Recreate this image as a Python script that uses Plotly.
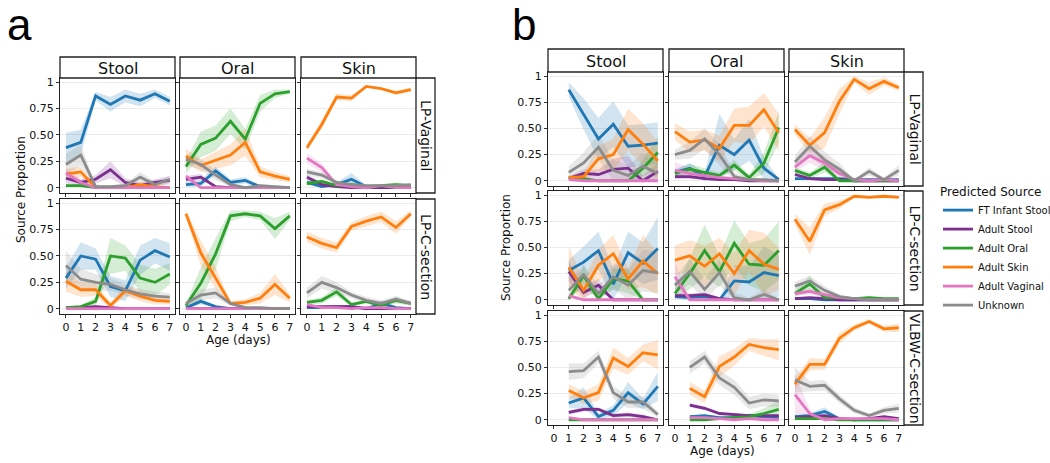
import plotly.graph_objects as go

W, H = 1050, 463
N = None

AGE = [0, 1, 2, 3, 4, 5, 6, 7]
SOURCES = ["FT Infant Stool", "Adult Stool", "Adult Oral", "Adult Skin", "Adult Vaginal", "Unknown"]
COLORS = ["#1f77b4", "#7b2f8e", "#2ca02c", "#ff7f0e", "#e377c2", "#8c8c8c"]
BAND_RGB = ["31,119,180", "123,47,142", "44,160,44", "255,127,14", "227,119,194", "140,140,140"]
SITES = ["Stool", "Oral", "Skin"]
ROWS_A = ["LP-Vaginal", "LP-C-section"]
ROWS_B = ["LP-Vaginal", "LP-C-section", "VLBW-C-section"]
Y_TICKS = [0, 0.25, 0.5, 0.75, 1]
Y_TICKTEXT = ["0", "0.25", "0.50", "0.75", "1"]

# ---- panel a, LP-Vaginal ----  (order: FT stool, adult stool, oral, skin, vaginal, unknown)
A_VAG_STOOL_MEAN = [
    [0.38, 0.43, 0.87, 0.79, 0.87, 0.83, 0.89, 0.82],
    [0.09, 0.05, 0.08, 0.17, 0.05, 0.02, 0.05, 0.07],
    [0.02, 0.02, 0.00, 0.00, 0.00, 0.00, 0.00, 0.00],
    [0.13, 0.15, 0.00, 0.00, 0.00, 0.03, 0.01, 0.00],
    [0.14, 0.05, 0.00, 0.00, 0.00, 0.00, 0.00, 0.00],
    [0.22, 0.31, 0.01, 0.01, 0.02, 0.10, 0.03, 0.08]]
A_VAG_STOOL_SPREAD = [
    [0.14, 0.12, 0.04, 0.07, 0.06, 0.06, 0.04, 0.04],
    [0.05, 0.03, 0.04, 0.08, 0.04, 0.03, 0.03, 0.04],
    [0.01, 0.01, 0.00, 0.00, 0.00, 0.00, 0.00, 0.00],
    [0.05, 0.05, 0.01, 0.01, 0.01, 0.02, 0.01, 0.01],
    [0.05, 0.03, 0.00, 0.00, 0.00, 0.00, 0.00, 0.00],
    [0.10, 0.10, 0.02, 0.01, 0.02, 0.05, 0.03, 0.03]]
A_VAG_ORAL_MEAN = [
    [0.03, 0.04, 0.16, 0.05, 0.07, 0.01, 0.00, 0.00],
    [0.08, 0.10, 0.01, 0.00, 0.00, 0.00, 0.00, 0.00],
    [0.20, 0.41, 0.47, 0.63, 0.46, 0.80, 0.89, 0.91],
    [0.30, 0.21, 0.26, 0.31, 0.43, 0.15, 0.11, 0.08],
    [0.11, 0.00, 0.00, 0.00, 0.00, 0.00, 0.00, 0.00],
    [0.27, 0.22, 0.12, 0.03, 0.00, 0.02, 0.01, 0.00]]
A_VAG_ORAL_SPREAD = [
    [0.02, 0.03, 0.04, 0.03, 0.03, 0.01, 0.01, 0.00],
    [0.03, 0.03, 0.01, 0.00, 0.00, 0.00, 0.00, 0.00],
    [0.06, 0.12, 0.12, 0.12, 0.10, 0.08, 0.04, 0.02],
    [0.07, 0.06, 0.08, 0.10, 0.13, 0.05, 0.04, 0.03],
    [0.03, 0.00, 0.00, 0.00, 0.00, 0.00, 0.00, 0.00],
    [0.05, 0.05, 0.05, 0.02, 0.01, 0.01, 0.01, 0.01]]
A_VAG_SKIN_MEAN = [
    [0.05, 0.01, 0.03, 0.08, 0.01, 0.01, 0.00, 0.00],
    [0.10, 0.03, 0.01, 0.00, 0.00, 0.00, 0.00, 0.00],
    [0.04, 0.06, 0.02, 0.03, 0.01, 0.02, 0.03, 0.02],
    [0.38, 0.60, 0.86, 0.85, 0.96, 0.94, 0.90, 0.93],
    [0.28, 0.19, 0.03, 0.01, 0.00, 0.02, 0.00, 0.00],
    [0.15, 0.12, 0.05, 0.03, 0.02, 0.02, 0.02, 0.03]]
A_VAG_SKIN_SPREAD = [
    [0.02, 0.01, 0.02, 0.06, 0.01, 0.01, 0.00, 0.00],
    [0.03, 0.02, 0.01, 0.00, 0.00, 0.00, 0.00, 0.00],
    [0.02, 0.02, 0.01, 0.02, 0.01, 0.01, 0.02, 0.01],
    [0.03, 0.04, 0.03, 0.03, 0.01, 0.01, 0.02, 0.02],
    [0.05, 0.04, 0.02, 0.01, 0.00, 0.01, 0.00, 0.00],
    [0.03, 0.03, 0.02, 0.02, 0.01, 0.01, 0.01, 0.01]]

# ---- panel a, LP-C-section ----
A_CS_STOOL_MEAN = [
    [0.29, 0.50, 0.47, 0.21, 0.17, 0.46, 0.55, 0.49],
    [0.01, 0.01, 0.02, 0.01, 0.00, 0.00, 0.00, 0.00],
    [0.01, 0.02, 0.07, 0.50, 0.48, 0.29, 0.25, 0.33],
    [0.26, 0.18, 0.18, 0.03, 0.17, 0.12, 0.08, 0.07],
    [0.00, 0.00, 0.00, 0.00, 0.00, 0.00, 0.00, 0.00],
    [0.41, 0.28, 0.25, 0.23, 0.18, 0.14, 0.12, 0.11]]
A_CS_STOOL_SPREAD = [
    [0.10, 0.13, 0.10, 0.10, 0.10, 0.14, 0.12, 0.13],
    [0.01, 0.01, 0.01, 0.01, 0.00, 0.00, 0.00, 0.00],
    [0.01, 0.01, 0.04, 0.17, 0.12, 0.13, 0.13, 0.10],
    [0.10, 0.07, 0.06, 0.03, 0.05, 0.05, 0.04, 0.03],
    [0.00, 0.00, 0.00, 0.00, 0.00, 0.00, 0.00, 0.00],
    [0.14, 0.10, 0.08, 0.06, 0.05, 0.05, 0.04, 0.04]]
A_CS_ORAL_MEAN = [
    [0.01, 0.07, 0.02, 0.00, 0.00, 0.00, 0.00, 0.00],
    [0.00, 0.00, 0.00, 0.00, 0.00, 0.00, 0.00, 0.00],
    [0.03, 0.24, 0.52, 0.88, 0.90, 0.88, 0.76, 0.88],
    [0.90, 0.53, 0.29, 0.05, 0.06, 0.10, 0.23, 0.10],
    [0.00, 0.00, 0.00, 0.00, 0.00, 0.00, 0.00, 0.00],
    [0.05, 0.13, 0.15, 0.05, 0.01, 0.01, 0.00, 0.00]]
A_CS_ORAL_SPREAD = [
    [0.01, 0.03, 0.01, 0.00, 0.00, 0.00, 0.00, 0.00],
    [0.00, 0.00, 0.00, 0.00, 0.00, 0.00, 0.00, 0.00],
    [0.02, 0.15, 0.15, 0.05, 0.03, 0.04, 0.10, 0.04],
    [0.03, 0.12, 0.10, 0.02, 0.03, 0.05, 0.10, 0.04],
    [0.00, 0.00, 0.00, 0.00, 0.00, 0.00, 0.00, 0.00],
    [0.02, 0.05, 0.05, 0.02, 0.01, 0.01, 0.00, 0.00]]
A_CS_SKIN_MEAN = [
    [0.01, 0.01, 0.02, 0.02, 0.00, 0.05, 0.01, 0.00],
    [0.02, 0.02, 0.02, 0.02, 0.00, 0.00, 0.00, 0.00],
    [0.06, 0.08, 0.16, 0.04, 0.07, 0.03, 0.08, 0.05],
    [0.68, 0.62, 0.58, 0.78, 0.83, 0.87, 0.77, 0.90],
    [0.04, 0.01, 0.01, 0.00, 0.01, 0.01, 0.00, 0.00],
    [0.15, 0.25, 0.20, 0.13, 0.08, 0.05, 0.09, 0.05]]
A_CS_SKIN_SPREAD = [
    [0.01, 0.01, 0.01, 0.01, 0.00, 0.03, 0.01, 0.00],
    [0.01, 0.01, 0.01, 0.01, 0.00, 0.00, 0.00, 0.00],
    [0.02, 0.03, 0.04, 0.02, 0.02, 0.02, 0.03, 0.02],
    [0.05, 0.05, 0.05, 0.04, 0.05, 0.05, 0.06, 0.03],
    [0.02, 0.01, 0.01, 0.00, 0.01, 0.01, 0.00, 0.00],
    [0.05, 0.06, 0.05, 0.03, 0.03, 0.03, 0.03, 0.02]]

# ---- panel b, LP-Vaginal ----
B_VAG_STOOL_MEAN = [
    [N, 0.87, 0.64, 0.40, 0.54, 0.33, 0.34, 0.36],
    [N, 0.02, 0.07, 0.06, 0.11, 0.12, 0.00, 0.09],
    [N, 0.03, 0.02, 0.00, 0.00, 0.00, 0.12, 0.27],
    [N, 0.03, 0.04, 0.21, 0.25, 0.49, 0.35, 0.19],
    [N, 0.01, 0.00, 0.00, 0.00, 0.00, 0.00, 0.00],
    [N, 0.08, 0.17, 0.32, 0.10, 0.05, 0.14, 0.07]]
B_VAG_STOOL_SPREAD = [
    [N, 0.07, 0.15, 0.20, 0.22, 0.20, 0.20, 0.20],
    [N, 0.02, 0.04, 0.05, 0.10, 0.12, 0.05, 0.08],
    [N, 0.02, 0.02, 0.00, 0.00, 0.00, 0.08, 0.15],
    [N, 0.02, 0.04, 0.12, 0.15, 0.20, 0.20, 0.18],
    [N, 0.01, 0.00, 0.00, 0.00, 0.00, 0.00, 0.00],
    [N, 0.06, 0.10, 0.12, 0.10, 0.10, 0.12, 0.12]]
B_VAG_ORAL_MEAN = [
    [0.08, 0.12, 0.04, 0.34, 0.25, 0.39, 0.12, 0.01],
    [0.04, 0.04, 0.02, 0.01, 0.01, 0.00, 0.00, 0.00],
    [0.07, 0.11, 0.08, 0.05, 0.15, 0.03, 0.17, 0.51],
    [0.47, 0.37, 0.39, 0.31, 0.53, 0.53, 0.68, 0.46],
    [0.10, 0.07, 0.05, 0.03, 0.02, 0.01, 0.00, 0.00],
    [0.25, 0.29, 0.40, 0.25, 0.04, 0.01, 0.01, 0.00]]
B_VAG_ORAL_SPREAD = [
    [0.03, 0.05, 0.04, 0.30, 0.15, 0.20, 0.10, 0.01],
    [0.02, 0.02, 0.01, 0.01, 0.01, 0.00, 0.00, 0.00],
    [0.03, 0.05, 0.04, 0.03, 0.05, 0.03, 0.10, 0.15],
    [0.08, 0.10, 0.10, 0.12, 0.16, 0.18, 0.16, 0.18],
    [0.08, 0.05, 0.03, 0.02, 0.01, 0.01, 0.00, 0.00],
    [0.05, 0.08, 0.10, 0.10, 0.04, 0.02, 0.01, 0.01]]
B_VAG_SKIN_MEAN = [
    [0.02, 0.02, 0.02, 0.02, 0.01, 0.01, 0.01, 0.01],
    [0.06, 0.02, 0.01, 0.01, 0.00, 0.00, 0.00, 0.00],
    [0.10, 0.05, 0.13, 0.00, 0.00, 0.00, 0.00, 0.00],
    [0.49, 0.34, 0.46, 0.76, 0.97, 0.88, 0.95, 0.89],
    [0.13, 0.24, 0.17, 0.07, 0.01, 0.00, 0.01, 0.00],
    [0.18, 0.33, 0.20, 0.11, 0.00, 0.09, 0.01, 0.10]]
B_VAG_SKIN_SPREAD = [
    [0.01, 0.01, 0.01, 0.01, 0.01, 0.01, 0.01, 0.01],
    [0.02, 0.01, 0.01, 0.01, 0.00, 0.00, 0.00, 0.00],
    [0.03, 0.03, 0.05, 0.01, 0.00, 0.00, 0.00, 0.00],
    [0.05, 0.07, 0.15, 0.12, 0.03, 0.06, 0.04, 0.03],
    [0.04, 0.07, 0.07, 0.04, 0.01, 0.00, 0.00, 0.00],
    [0.06, 0.10, 0.08, 0.06, 0.01, 0.04, 0.02, 0.05]]

# ---- panel b, LP-C-section ----
B_CS_STOOL_MEAN = [
    [N, 0.28, 0.36, 0.47, 0.15, 0.45, 0.35, 0.49],
    [N, 0.27, 0.07, 0.14, 0.00, 0.00, 0.00, 0.00],
    [N, 0.01, 0.23, 0.01, 0.20, 0.18, 0.00, 0.00],
    [N, 0.31, 0.09, 0.33, 0.44, 0.20, 0.37, 0.25],
    [N, 0.04, 0.00, 0.00, 0.00, 0.00, 0.00, 0.00],
    [N, 0.09, 0.24, 0.06, 0.22, 0.14, 0.28, 0.26]]
B_CS_STOOL_SPREAD = [
    [N, 0.10, 0.15, 0.18, 0.15, 0.20, 0.20, 0.30],
    [N, 0.10, 0.05, 0.06, 0.00, 0.00, 0.00, 0.00],
    [N, 0.01, 0.10, 0.02, 0.10, 0.12, 0.02, 0.00],
    [N, 0.20, 0.10, 0.15, 0.18, 0.10, 0.25, 0.20],
    [N, 0.02, 0.00, 0.00, 0.00, 0.00, 0.00, 0.00],
    [N, 0.08, 0.10, 0.08, 0.12, 0.15, 0.20, 0.20]]
B_CS_ORAL_MEAN = [
    [0.03, 0.02, 0.03, 0.00, 0.18, 0.17, 0.26, 0.23],
    [0.04, 0.04, 0.05, 0.01, 0.00, 0.00, 0.00, 0.00],
    [0.06, 0.25, 0.47, 0.27, 0.54, 0.34, 0.33, 0.47],
    [0.38, 0.42, 0.32, 0.44, 0.25, 0.47, 0.34, 0.29],
    [0.22, 0.00, 0.00, 0.00, 0.00, 0.00, 0.00, 0.00],
    [0.14, 0.27, 0.10, 0.26, 0.02, 0.00, 0.05, 0.00]]
B_CS_ORAL_SPREAD = [
    [0.02, 0.02, 0.02, 0.01, 0.15, 0.15, 0.25, 0.20],
    [0.02, 0.02, 0.02, 0.01, 0.00, 0.00, 0.00, 0.00],
    [0.05, 0.15, 0.25, 0.15, 0.22, 0.20, 0.25, 0.28],
    [0.14, 0.15, 0.20, 0.15, 0.20, 0.20, 0.30, 0.20],
    [0.15, 0.00, 0.00, 0.00, 0.00, 0.00, 0.00, 0.00],
    [0.08, 0.12, 0.10, 0.12, 0.05, 0.02, 0.05, 0.01]]
B_CS_SKIN_MEAN = [
    [0.01, 0.01, 0.00, 0.00, 0.00, 0.00, 0.00, 0.00],
    [0.01, 0.02, 0.01, 0.00, 0.00, 0.00, 0.00, 0.00],
    [0.06, 0.15, 0.02, 0.02, 0.01, 0.02, 0.01, 0.01],
    [0.77, 0.56, 0.86, 0.91, 0.99, 0.98, 0.99, 0.98],
    [0.06, 0.08, 0.05, 0.02, 0.01, 0.00, 0.00, 0.00],
    [0.13, 0.18, 0.09, 0.03, 0.01, 0.00, 0.00, 0.00]]
B_CS_SKIN_SPREAD = [
    [0.01, 0.01, 0.00, 0.00, 0.00, 0.00, 0.00, 0.00],
    [0.01, 0.01, 0.01, 0.00, 0.00, 0.00, 0.00, 0.00],
    [0.03, 0.08, 0.02, 0.01, 0.01, 0.01, 0.01, 0.01],
    [0.05, 0.13, 0.06, 0.04, 0.01, 0.01, 0.01, 0.01],
    [0.02, 0.03, 0.02, 0.01, 0.01, 0.00, 0.00, 0.00],
    [0.04, 0.05, 0.04, 0.02, 0.01, 0.00, 0.00, 0.00]]

# ---- panel b, VLBW-C-section ----
B_VLBW_STOOL_MEAN = [
    [N, 0.16, 0.21, 0.03, 0.09, 0.26, 0.15, 0.32],
    [N, 0.07, 0.10, 0.10, 0.04, 0.05, 0.03, 0.00],
    [N, 0.00, 0.00, 0.00, 0.00, 0.00, 0.00, 0.00],
    [N, 0.28, 0.21, 0.26, 0.59, 0.51, 0.64, 0.62],
    [N, 0.02, 0.00, 0.00, 0.00, 0.00, 0.00, 0.00],
    [N, 0.46, 0.47, 0.60, 0.26, 0.17, 0.17, 0.05]]
B_VLBW_STOOL_SPREAD = [
    [N, 0.05, 0.10, 0.03, 0.05, 0.10, 0.05, 0.14],
    [N, 0.02, 0.02, 0.02, 0.02, 0.02, 0.02, 0.01],
    [N, 0.00, 0.00, 0.00, 0.00, 0.00, 0.00, 0.00],
    [N, 0.06, 0.06, 0.08, 0.10, 0.08, 0.08, 0.14],
    [N, 0.01, 0.00, 0.00, 0.00, 0.00, 0.00, 0.00],
    [N, 0.08, 0.07, 0.06, 0.06, 0.06, 0.06, 0.03]]
B_VLBW_ORAL_MEAN = [
    [N, 0.03, 0.04, 0.02, 0.02, 0.04, 0.03, 0.02],
    [N, 0.14, 0.11, 0.06, 0.05, 0.04, 0.04, 0.04],
    [N, 0.00, 0.00, 0.01, 0.02, 0.03, 0.06, 0.10],
    [N, 0.30, 0.22, 0.51, 0.60, 0.72, 0.69, 0.67],
    [N, 0.02, 0.02, 0.01, 0.00, 0.01, 0.00, 0.00],
    [N, 0.50, 0.60, 0.40, 0.31, 0.16, 0.19, 0.18]]
B_VLBW_ORAL_SPREAD = [
    [N, 0.01, 0.01, 0.01, 0.01, 0.02, 0.01, 0.01],
    [N, 0.02, 0.02, 0.01, 0.01, 0.01, 0.01, 0.01],
    [N, 0.00, 0.00, 0.01, 0.01, 0.02, 0.05, 0.08],
    [N, 0.06, 0.06, 0.10, 0.08, 0.06, 0.08, 0.10],
    [N, 0.01, 0.01, 0.01, 0.00, 0.01, 0.00, 0.00],
    [N, 0.06, 0.06, 0.07, 0.07, 0.06, 0.06, 0.06]]
B_VLBW_SKIN_MEAN = [
    [0.03, 0.04, 0.08, 0.01, 0.00, 0.00, 0.00, 0.00],
    [0.02, 0.03, 0.04, 0.01, 0.00, 0.01, 0.03, 0.01],
    [0.01, 0.01, 0.01, 0.00, 0.00, 0.00, 0.00, 0.00],
    [0.34, 0.53, 0.53, 0.78, 0.88, 0.94, 0.87, 0.88],
    [0.24, 0.06, 0.00, 0.01, 0.01, 0.01, 0.01, 0.00],
    [0.38, 0.32, 0.33, 0.20, 0.09, 0.04, 0.09, 0.11]]
B_VLBW_SKIN_SPREAD = [
    [0.01, 0.02, 0.04, 0.01, 0.00, 0.00, 0.00, 0.00],
    [0.01, 0.01, 0.01, 0.01, 0.00, 0.01, 0.01, 0.01],
    [0.01, 0.01, 0.01, 0.00, 0.00, 0.00, 0.00, 0.00],
    [0.06, 0.06, 0.05, 0.05, 0.03, 0.02, 0.03, 0.04],
    [0.20, 0.04, 0.00, 0.01, 0.00, 0.00, 0.00, 0.00],
    [0.12, 0.05, 0.05, 0.04, 0.03, 0.02, 0.03, 0.04]]

# ---------------- layout geometry (pixels) ----------------
A_COLS = [(60, 175), (180, 295), (301, 416)]
A_ROWS = [(78, 193), (199, 314)]
A_HEAD = (57, 78)
A_STRIP_X = (416, 435)
B_COLS = [(548, 663), (669, 784), (789, 904)]
B_ROWS = [(72, 186), (191, 305), (311, 425)]
B_HEAD = (49, 72)
B_STRIP_X = (904, 923)

A_DATA = [
    [(A_VAG_STOOL_MEAN, A_VAG_STOOL_SPREAD), (A_VAG_ORAL_MEAN, A_VAG_ORAL_SPREAD), (A_VAG_SKIN_MEAN, A_VAG_SKIN_SPREAD)],
    [(A_CS_STOOL_MEAN, A_CS_STOOL_SPREAD), (A_CS_ORAL_MEAN, A_CS_ORAL_SPREAD), (A_CS_SKIN_MEAN, A_CS_SKIN_SPREAD)],
]
B_DATA = [
    [(B_VAG_STOOL_MEAN, B_VAG_STOOL_SPREAD), (B_VAG_ORAL_MEAN, B_VAG_ORAL_SPREAD), (B_VAG_SKIN_MEAN, B_VAG_SKIN_SPREAD)],
    [(B_CS_STOOL_MEAN, B_CS_STOOL_SPREAD), (B_CS_ORAL_MEAN, B_CS_ORAL_SPREAD), (B_CS_SKIN_MEAN, B_CS_SKIN_SPREAD)],
    [(B_VLBW_STOOL_MEAN, B_VLBW_STOOL_SPREAD), (B_VLBW_ORAL_MEAN, B_VLBW_ORAL_SPREAD), (B_VLBW_SKIN_MEAN, B_VLBW_SKIN_SPREAD)],
]

FONT = "DejaVu Sans"


def fx(p):
    return p / W


def fy(p):
    return 1 - p / H


fig = go.Figure()
layout = {}
shapes = []
annotations = []
ax_i = [0]
legend_done = [False]


def ann(text, xp, yp, size, angle=0, family=FONT, color="#111"):
    return dict(text=text, xref="paper", yref="paper", x=fx(xp), y=fy(yp),
                xanchor="center", yanchor="middle", textangle=angle, showarrow=False,
                font=dict(size=size, color=color, family=family))


def add_panel(cols, rows, data, row_i, col_i):
    ax_i[0] += 1
    k = ax_i[0]
    xa = "x" if k == 1 else f"x{k}"
    ya = "y" if k == 1 else f"y{k}"
    xkey = "xaxis" if k == 1 else f"xaxis{k}"
    ykey = "yaxis" if k == 1 else f"yaxis{k}"
    (l, r), (t, b) = cols[col_i], rows[row_i]
    last_row = row_i == len(rows) - 1
    layout[xkey] = dict(domain=[fx(l), fx(r)], anchor=ya, range=[-0.4, 7.35],
                        tickvals=AGE, ticks="outside", ticklen=3, tickwidth=1, tickcolor="#333",
                        showticklabels=last_row, showgrid=False, zeroline=False,
                        showline=True, mirror=True, linecolor="#222", linewidth=1.3,
                        tickfont=dict(size=11, color="#111", family=FONT))
    layout[ykey] = dict(domain=[fy(b), fy(t)], anchor=xa, range=[-0.05, 1.04],
                        tickvals=Y_TICKS, ticktext=Y_TICKTEXT, ticks="outside", ticklen=3,
                        tickwidth=1, tickcolor="#333",
                        showticklabels=(col_i == 0), showgrid=True, gridcolor="#ebebeb",
                        gridwidth=1, zeroline=False,
                        showline=True, mirror=True, linecolor="#222", linewidth=1.3,
                        tickfont=dict(size=11, color="#111", family=FONT))
    means, spreads = data
    # bands
    for s in range(len(SOURCES)):
        xs = [a for a, m in zip(AGE, means[s]) if m is not None]
        ms = [m for m in means[s] if m is not None]
        ss = [v for v in spreads[s] if v is not None]
        hi = [min(1.0, m + v) for m, v in zip(ms, ss)]
        lo = [max(0.0, m - v) for m, v in zip(ms, ss)]
        fig.add_trace(go.Scatter(x=xs + xs[::-1], y=hi + lo[::-1], xaxis=xa, yaxis=ya,
                                 fill="toself", fillcolor=f"rgba({BAND_RGB[s]},0.2)",
                                 line=dict(width=0), mode="lines", hoverinfo="skip",
                                 showlegend=False))
    # lines
    for s in range(len(SOURCES)):
        fig.add_trace(go.Scatter(x=AGE, y=means[s], xaxis=xa, yaxis=ya, mode="lines",
                                 line=dict(color=COLORS[s], width=2.8), name=SOURCES[s],
                                 legendgroup=SOURCES[s], showlegend=not legend_done[0]))
    legend_done[0] = True


def add_group(cols, rows, head, strip_x, data, row_names):
    for ri in range(len(rows)):
        for ci in range(len(cols)):
            add_panel(cols, rows, data[ri][ci], ri, ci)
    for ci, (l, r) in enumerate(cols):
        shapes.append(dict(type="rect", xref="paper", yref="paper", x0=fx(l), x1=fx(r),
                           y0=fy(head[1]), y1=fy(head[0]), line=dict(color="#222", width=1.3),
                           fillcolor="white"))
        annotations.append(ann(SITES[ci], (l + r) / 2, (head[0] + head[1]) / 2 + 1, 16))
    for ri, (t, b) in enumerate(rows):
        shapes.append(dict(type="rect", xref="paper", yref="paper", x0=fx(strip_x[0]), x1=fx(strip_x[1]),
                           y0=fy(b), y1=fy(t), line=dict(color="#222", width=1.3), fillcolor="white"))
        annotations.append(ann(row_names[ri], (strip_x[0] + strip_x[1]) / 2 + 1, (t + b) / 2, 14, angle=90))


add_group(A_COLS, A_ROWS, A_HEAD, A_STRIP_X, A_DATA, ROWS_A)
add_group(B_COLS, B_ROWS, B_HEAD, B_STRIP_X, B_DATA, ROWS_B)

# axis titles and panel letters
annotations += [
    ann("Source Proportion", 21, 190, 12, angle=-90),
    ann("Source Proportion", 506, 248, 12, angle=-90),
    ann("Age (days)", 238, 340, 12),
    ann("Age (days)", 722, 451, 12),
    ann("a", 19, 25, 44, family="Liberation Sans", color="#000"),
    ann("b", 524, 25, 44, family="Liberation Sans", color="#000"),
]

fig.update_layout(
    width=W, height=H, margin=dict(l=0, r=0, t=0, b=0, autoexpand=False),
    paper_bgcolor="white", plot_bgcolor="white",
    shapes=shapes, annotations=annotations,
    showlegend=True,
    legend=dict(x=fx(938), y=fy(180), xanchor="left", yanchor="top",
                title=dict(text="Predicted Source", font=dict(size=12, color="#111", family=FONT)),
                font=dict(size=10, color="#111", family=FONT), bgcolor="rgba(0,0,0,0)",
                itemwidth=30, tracegroupgap=0),
    **layout,
)

fig.write_html("out.html", config={"displayModeBar": False},
               post_script="document.body.style.margin='0';document.body.style.padding='0';")
